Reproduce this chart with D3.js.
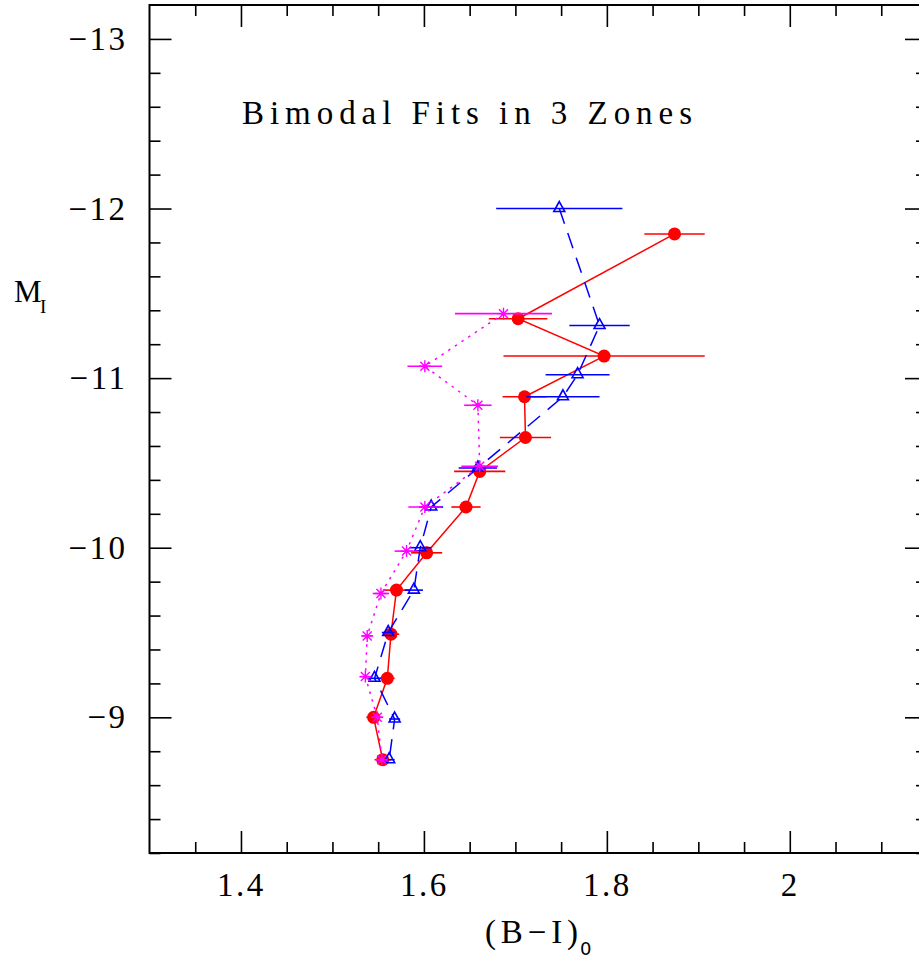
<!DOCTYPE html>
<html>
<head>
<meta charset="utf-8">
<script src="https://cdn.jsdelivr.net/npm/d3@7"></script>
<style>
  html, body { margin: 0; padding: 0; background: #fff; }
  svg { display: block; }
  .lbl { font-family: "Liberation Serif", "Times New Roman", serif; fill: #000; }
</style>
</head>
<body>
<svg id="chart" width="919" height="959"></svg>
<script>
// Absolute magnitude M_I of each bin
const redMag = [-11.85, -11.35, -11.13, -10.89, -10.65, -10.45, -10.24, -9.97, -9.75, -9.49, -9.23, -9.00, -8.75];
// (B-I)_0 colour and its error for the red series
const redColor = [1.874, 1.703, 1.797, 1.710, 1.711, 1.661, 1.646, 1.603, 1.570, 1.564, 1.560, 1.545, 1.555];
const redErr   = [0.033, 0.032, 0.110, 0.024, 0.028, 0.028, 0.016, 0.017, 0.015, 0.009, 0.008, 0.008, 0.009];

const blueMag   = [-12.00, -11.31, -11.02, -10.89, -10.47, -10.24, -10.00, -9.75, -9.50, -9.23, -8.99, -8.75];
const blueColor = [1.748, 1.792, 1.768, 1.752, 1.659, 1.608, 1.596, 1.589, 1.561, 1.546, 1.568, 1.562];
const blueErr   = [0.069, 0.033, 0.035, 0.040, 0.021, 0.013, 0.012, 0.010, 0.007, 0.007, 0.006, 0.006];

const magMag   = [-11.38, -11.07, -10.84, -10.48, -10.24, -9.98, -9.73, -9.48, -9.24, -9.00, -8.75];
const magColor = [1.687, 1.601, 1.659, 1.661, 1.601, 1.581, 1.553, 1.538, 1.536, 1.549, 1.554];
const magErr   = [0.053, 0.019, 0.015, 0.020, 0.018, 0.013, 0.009, 0.006, 0.006, 0.006, 0.006];

const xMajor = [1.4, 1.6, 1.8, 2.0];
const yMajor = [-13, -12, -11, -10, -9];

const svg = d3.select("#chart");
const plotL = 149.5, plotR = 927, plotT = 5, plotB = 853;

const x = d3.scaleLinear().domain([1.3, 2.15]).range([plotL, plotR]);
const y = d3.scaleLinear().domain([-13.2, -8.2]).range([plotT, plotB]);

const xMinor = d3.range(1.35, 2.15, 0.05).map(v => +v.toFixed(2)).filter(v => !xMajor.some(m => Math.abs(m - v) < 1e-6));
const yMinor = d3.range(-13.0, -8.2, 0.2).map(v => +v.toFixed(1)).filter(v => !yMajor.some(m => Math.abs(m - v) < 1e-6) && v > -13.2);

const fmt = d => d < 0 ? "\u2212" + Math.abs(d) : String(d);

function styleAxis(g) {
  g.select(".domain").remove();
  g.selectAll(".tick line").attr("stroke", "#000").attr("stroke-width", 1.6);
}

// bottom axis
svg.append("g").attr("transform", `translate(0,${plotB})`)
  .call(d3.axisBottom(x).tickValues(xMajor).tickSize(-22).tickPadding(20).tickFormat(fmt))
  .call(styleAxis)
  .call(g => g.selectAll("text").attr("class", "lbl").attr("font-size", 33).attr("letter-spacing", 2.5));
svg.append("g").attr("transform", `translate(0,${plotB})`)
  .call(d3.axisBottom(x).tickValues(xMinor).tickSize(-11).tickFormat(""))
  .call(styleAxis);
// top axis
svg.append("g").attr("transform", `translate(0,${plotT})`)
  .call(d3.axisTop(x).tickValues(xMajor).tickSize(-22).tickFormat(""))
  .call(styleAxis);
svg.append("g").attr("transform", `translate(0,${plotT})`)
  .call(d3.axisTop(x).tickValues(xMinor).tickSize(-11).tickFormat(""))
  .call(styleAxis);
// left axis
svg.append("g").attr("transform", `translate(${plotL},0)`)
  .call(d3.axisLeft(y).tickValues(yMajor).tickSize(-22).tickPadding(22).tickFormat(fmt))
  .call(styleAxis)
  .call(g => g.selectAll("text").attr("class", "lbl").attr("font-size", 33).attr("letter-spacing", 2.5));
svg.append("g").attr("transform", `translate(${plotL},0)`)
  .call(d3.axisLeft(y).tickValues(yMinor).tickSize(-11).tickFormat(""))
  .call(styleAxis);
// right axis
svg.append("g").attr("transform", `translate(${plotR},0)`)
  .call(d3.axisRight(y).tickValues(yMajor).tickSize(-22).tickFormat(""))
  .call(styleAxis);
svg.append("g").attr("transform", `translate(${plotR},0)`)
  .call(d3.axisRight(y).tickValues(yMinor).tickSize(-11).tickFormat(""))
  .call(styleAxis);

// frame
svg.append("rect")
  .attr("x", plotL).attr("y", plotT)
  .attr("width", plotR - plotL).attr("height", plotB - plotT)
  .attr("fill", "none").attr("stroke", "#000").attr("stroke-width", 2);

// axis titles
svg.append("text").attr("class", "lbl").attr("x", 485).attr("y", 943)
  .attr("font-size", 33)
  .attr("textLength", 93).attr("lengthAdjust", "spacing")
  .text("(B\u2212I)");
svg.append("text").attr("x", 580).attr("y", 955)
  .attr("font-family", "DejaVu Sans").attr("font-size", 18).text("0");

svg.append("text").attr("class", "lbl").attr("x", 14).attr("y", 302)
  .attr("font-size", 31).text("M");
svg.append("text").attr("class", "lbl").attr("x", 40).attr("y", 313)
  .attr("font-size", 19).text("I");

// title
svg.append("text").attr("class", "lbl")
  .attr("x", 242).attr("y", 124)
  .attr("font-size", 33)
  .attr("textLength", 450).attr("lengthAdjust", "spacing")
  .text("Bimodal Fits in 3 Zones");

// series drawing: connecting line, horizontal error bars, markers
function series(mag, col, err, color, dash, marker) {
  const pts = mag.map((m, i) => ({ m, c: col[i], e: err[i] }));
  const g = svg.append("g");
  g.append("path")
    .datum(pts)
    .attr("d", d3.line().x(d => x(d.c)).y(d => y(d.m)))
    .attr("fill", "none").attr("stroke", color).attr("stroke-width", 1.5)
    .attr("stroke-dasharray", dash);
  g.selectAll("line.err").data(pts).join("line")
    .attr("class", "err")
    .attr("x1", d => x(d.c - d.e)).attr("x2", d => x(d.c + d.e))
    .attr("y1", d => y(d.m)).attr("y2", d => y(d.m))
    .attr("stroke", color).attr("stroke-width", 1.6);
  const mk = g.selectAll("g.mk").data(pts).join("g")
    .attr("class", "mk")
    .attr("transform", d => `translate(${x(d.c)},${y(d.m)})`);
  marker(mk, color);
}

series(redMag, redColor, redErr, "#ff0000", null, (sel, c) => {
  sel.append("circle").attr("r", 6.5).attr("fill", c);
});
series(blueMag, blueColor, blueErr, "#0000ff", "16,10", (sel, c) => {
  sel.append("path").attr("d", "M0,-7L5.5,3L-5.5,3Z")
    .attr("fill", "none").attr("stroke", c).attr("stroke-width", 1.6);
});
series(magMag, magColor, magErr, "#ff00ff", "2.5,5.5", (sel, c) => {
  sel.append("path").attr("d", "M-4.5,-4.5L4.5,4.5M-4.5,4.5L4.5,-4.5M0,-6L0,6M-6,0L6,0")
    .attr("fill", "none").attr("stroke", c).attr("stroke-width", 1.4);
});
</script>
</body>
</html>
